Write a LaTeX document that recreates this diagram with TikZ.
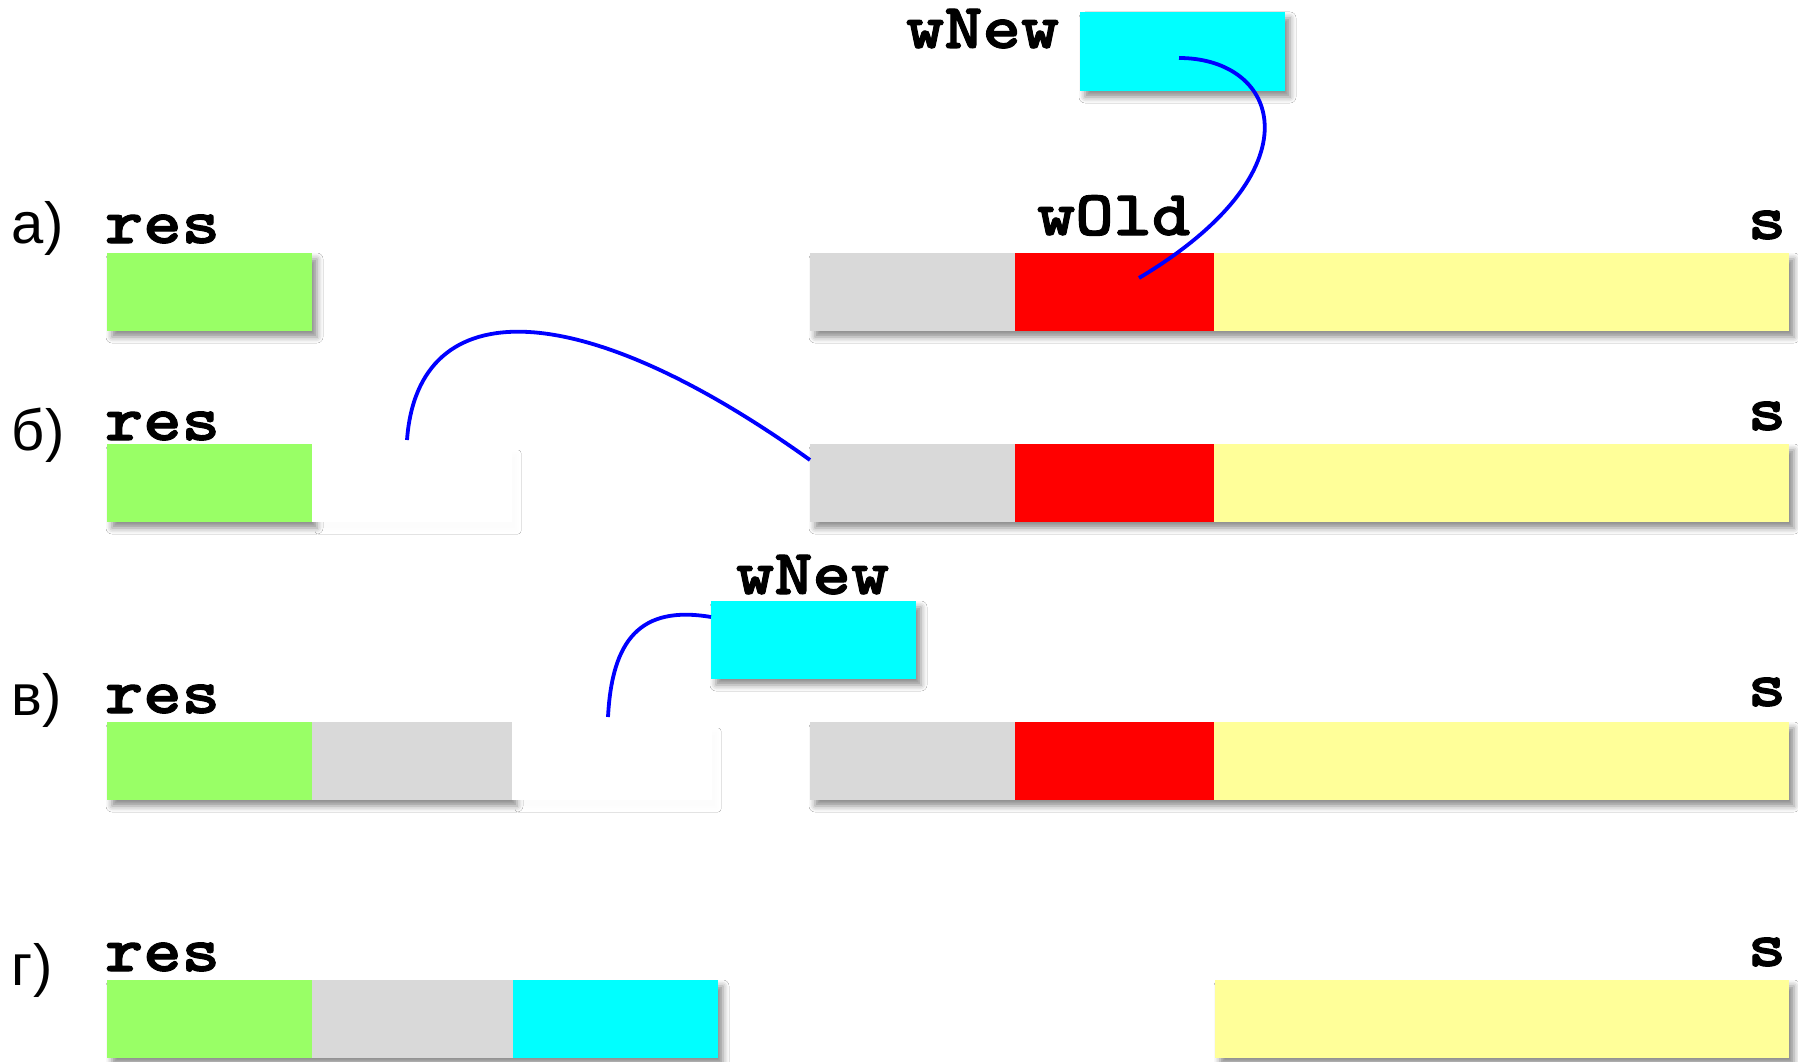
\documentclass[tikz,border=0pt]{standalone}
\usepackage{fontspec}
\setmainfont{Liberation Sans}
\newfontfamily\cour{lmmonolt10-bold}[Extension=.otf, FakeStretch=1.14, FakeBold=1.6]
\usetikzlibrary{shadows.blur}
\definecolor{cgreen}{RGB}{153,255,102}
\definecolor{cgray}{RGB}{217,217,217}
\definecolor{cred}{RGB}{255,0,0}
\definecolor{cyell}{RGB}{255,255,153}
\definecolor{ccyan}{RGB}{0,255,255}
\definecolor{cblue}{RGB}{0,0,255}
\begin{document}
\begin{tikzpicture}[x=1pt,y=-1pt,
  shade/.style={draw=none, fill=white,
    blur shadow={shadow xshift=5pt, shadow yshift=-6pt, shadow blur radius=6pt, shadow opacity=45}},
  cell/.style={inner sep=0pt, outer sep=0pt, anchor=north west, minimum height=78pt, draw=none},
  ghost/.style={inner sep=0pt, outer sep=0pt, anchor=north west, minimum height=78pt, draw=none, fill=white,
    blur shadow={shadow xshift=6pt, shadow yshift=-9pt, shadow blur radius=3pt, shadow opacity=1}},
  code/.style={inner sep=0pt, outer sep=0pt, font=\cour\fontsize{64}{64}\selectfont},
  lbl/.style={inner sep=0pt, outer sep=0pt, anchor=base west, font=\fontsize{58}{58}\selectfont},
  link/.style={draw=cblue, line width=3.8pt}
]
\useasboundingbox[fill=white] (0,0) rectangle (1798,1062);

% top new word
\path[shade] (1080,12) rectangle (1285,91);
\node[cell, fill=ccyan, minimum width=205pt, minimum height=79pt] (cya) at (1080,12) {};
\node[code, anchor=base west] (twn) at (906,48) {wNew};

% row a
\node[lbl] (la) at (12,243) {а)};
\node[code, anchor=base west] (ra) at (105,243) {res};
\node[code, anchor=base west] (wo) at (1037,235) {wOld};
\node[code, anchor=base east] (sa) at (1786,239) {s};
\path[shade] (107,253) rectangle (312,331);
\path[shade] (810,253) rectangle (1789,331);
\node[cell, fill=cgreen, minimum width=205pt] (ga) at (107,253) {};
\node[cell, fill=cgray, minimum width=205pt] (gya) at (810,253) {};
\node[cell, fill=cred, minimum width=199pt] (rda) at (1015,253) {};
\node[cell, fill=cyell, minimum width=575pt] (ya) at (1214,253) {};

% row b
\node[lbl] (lb) at (12,450) {б)};
\node[code, anchor=base west] (rb) at (105,440) {res};
\node[code, anchor=base east] (sb) at (1786,430) {s};
\path[shade] (107,444) rectangle (312,522);
\path[shade] (810,444) rectangle (1789,522);
\node[cell, fill=cgreen, minimum width=205pt] (gb) at (107,444) {};
\node[ghost, minimum width=200pt] (wb) at (312,444) {};
\node[cell, fill=cgray, minimum width=205pt] (gyb) at (810,444) {};
\node[cell, fill=cred, minimum width=199pt] (rdb) at (1015,444) {};
\node[cell, fill=cyell, minimum width=575pt] (yb) at (1214,444) {};

% row v
\node[code, anchor=base west] (vwn) at (736,594) {wNew};
\path[shade] (711,601) rectangle (916,679);
\node[cell, fill=ccyan, minimum width=205pt] (cyv) at (711,601) {};
\node[lbl] (lv) at (12,715) {в)};
\node[code, anchor=base west] (rv) at (105,713) {res};
\node[code, anchor=base east] (sv) at (1786,706) {s};
\path[shade] (107,722) rectangle (512,800);
\path[shade] (810,722) rectangle (1789,800);
\node[cell, fill=cgreen, minimum width=205pt] (gv) at (107,722) {};
\node[cell, fill=cgray, minimum width=200pt] (gyv1) at (312,722) {};
\node[ghost, minimum width=200pt] (wv) at (512,722) {};
\node[cell, fill=cgray, minimum width=205pt] (gyv) at (810,722) {};
\node[cell, fill=cred, minimum width=199pt] (rdv) at (1015,722) {};
\node[cell, fill=cyell, minimum width=575pt] (yv) at (1214,722) {};

% row g
\node[lbl] (lg) at (12,985) {г)};
\node[code, anchor=base west] (rg) at (105,971) {res};
\node[code, anchor=base east] (sg) at (1786,966) {s};
\path[shade] (107,980) rectangle (718,1058);
\path[shade] (1215,980) rectangle (1789,1058);
\node[cell, fill=cgreen, minimum width=205pt] (gg) at (107,980) {};
\node[cell, fill=cgray, minimum width=201pt] (gyg) at (312,980) {};
\node[cell, fill=ccyan, minimum width=205pt] (cyg) at (513,980) {};
\node[cell, fill=cyell, minimum width=574pt] (yg) at (1215,980) {};

% connectors
\coordinate (a1) at (1179,58);
\coordinate (a2) at (1139,278);
\draw[link] (a1) .. controls (1280,58) and (1320,170) .. (a2);
\coordinate (b1) at (407,440);
\coordinate (b2) at (810,460);
\draw[link] (b1) .. controls (418,290) and (580,295) .. (b2);
\coordinate (v1) at (608,717);
\coordinate (v2) at (711,617);
\draw[link] (v1) .. controls (612,640) and (640,605) .. (v2);
\end{tikzpicture}
\end{document}
